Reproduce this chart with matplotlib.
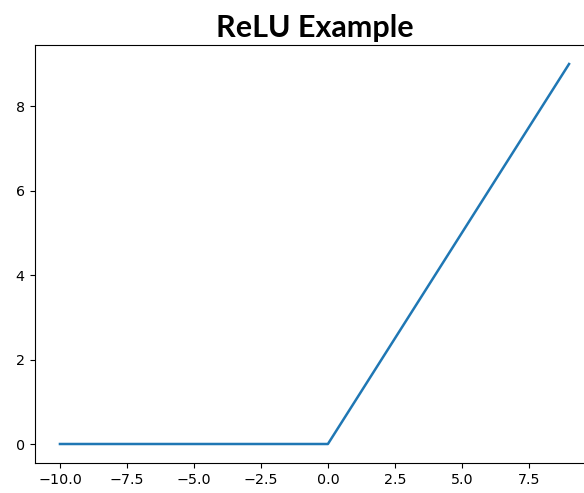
import numpy as np
import matplotlib
matplotlib.use("Agg")
import matplotlib.pyplot as plt

# inputs and ReLU outputs
x_vals = list(range(-10, 10))
y_vals = [0, 0, 0, 0, 0, 0, 0, 0, 0, 0, 0, 1, 2, 3, 4, 5, 6, 7, 8, 9]

fig = plt.figure(figsize=(5.84, 4.93), dpi=100)
ax = fig.add_axes([34.5 / 584, 30 / 493, 560 / 584, 418 / 493])
ax.plot(x_vals, y_vals, color="#1f77b4", linewidth=1.8)
ax.tick_params(labelsize=10.3)
ax.set_title("ReLU Example", fontsize=22, fontweight="bold", family="Lato", pad=6)

fig.savefig("out.png", dpi=100)
